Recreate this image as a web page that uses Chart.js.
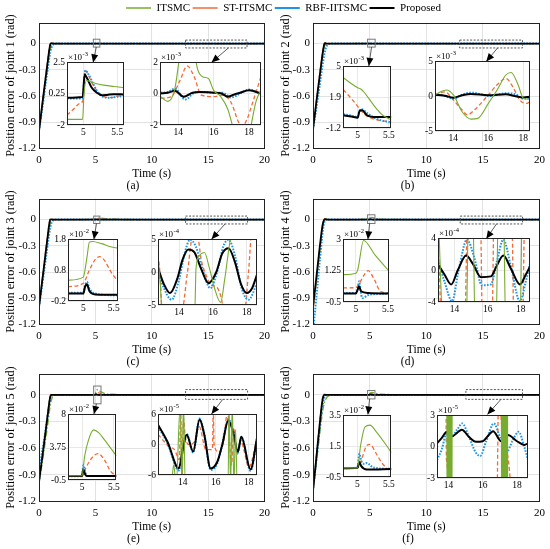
<!DOCTYPE html>
<html>
<head>
<meta charset="utf-8">
<script src="https://cdn.jsdelivr.net/npm/chart.js@4.4.1/dist/chart.umd.min.js"></script>
<style>
  body { margin: 0; background: #fff; width: 550px; height: 549px; position: relative; overflow: hidden; }
  canvas { position: absolute; }
</style>
</head>
<body>
<script>
// ---- series names and shared ticks ----
const seriesNames = ["ITSMC", "ST-ITSMC", "RBF-IITSMC", "Proposed"];
const mainXTicks = [0, 5, 10, 15, 20];
const mainYTicks = [-1.2, -0.9, -0.6, -0.3, 0];
const leftInsetXTicks = [5, 5.5];
const rightInsetXTicks = [14, 16, 18];

// ---- main plots: time grid and errors (rad) ----
const mainT = [0, 0.2, 0.4, 0.6, 0.8, 0.9, 1.0, 1.1, 1.2, 1.3, 1.5, 1.8, 2.2, 3, 4.98, 5.03, 5.2, 5.5, 6, 10, 20];

const aIT   = [-1.0, -0.81, -0.62, -0.43, -0.24, -0.14, -0.065, -0.025, -0.006, 0, 0.002, 0, 0, 0, 0, 0.001, 0.001, 0, 0, 0, 0];
const aST   = [-1.0, -0.78, -0.57, -0.36, -0.16, -0.06, 0.004, 0.012, 0.008, 0.003, 0, 0, 0, 0, 0, 0, 0.001, 0, 0, 0, 0];
const aRBF  = [-1.0, -0.82, -0.64, -0.45, -0.27, -0.18, -0.1, -0.05, -0.022, -0.008, -0.001, 0, 0, 0, 0, 0, 0, 0, 0, 0, 0];
const aProp = [-1.0, -0.79, -0.58, -0.38, -0.18, -0.08, -0.01, 0.004, 0.002, 0, 0, 0, 0, 0, 0, 0, 0, 0, 0, 0, 0];

const bIT   = [-0.98, -0.78, -0.58, -0.39, -0.2, -0.11, -0.04, -0.01, 0, 0, 0, 0, 0, 0, 0.003, 0.003, 0.002, 0, 0, 0, 0];
const bST   = [-0.98, -0.76, -0.55, -0.34, -0.14, -0.05, 0.008, 0.012, 0.006, 0.002, 0, 0, 0, 0, 0.001, 0.001, 0, 0, 0, 0, 0];
const bRBF  = [-0.98, -0.82, -0.65, -0.47, -0.29, -0.2, -0.12, -0.065, -0.03, -0.012, -0.002, 0, 0, 0, 0, 0, 0, 0, 0, 0, 0];
const bProp = [-0.98, -0.77, -0.56, -0.36, -0.16, -0.07, -0.005, 0.004, 0, 0, 0, 0, 0, 0, 0, 0, 0, 0, 0, 0, 0];

const cIT   = [-1.0, -0.8, -0.6, -0.4, -0.2, -0.11, -0.04, -0.01, 0, 0, 0, 0, 0, 0, 0.006, 0.012, 0.017, 0.016, 0.01, 0, 0];
const cST   = [-1.0, -0.78, -0.56, -0.35, -0.14, -0.05, 0.008, 0.01, 0.005, 0, 0, 0, 0, 0, 0.004, 0.007, 0.012, 0.009, 0.004, 0, 0];
const cRBF  = [-1.0, -0.82, -0.64, -0.45, -0.26, -0.17, -0.09, -0.04, -0.015, -0.004, 0, 0, 0, 0, 0, 0.003, 0, 0, 0, 0, 0];
const cProp = [-1.0, -0.79, -0.58, -0.37, -0.16, -0.06, 0, 0.003, 0, 0, 0, 0, 0, 0, 0, 0.003, 0, 0, 0, 0, 0];

const dIT   = [-1.05, -0.82, -0.59, -0.36, -0.14, -0.05, 0, 0.01, 0.006, 0.002, 0, 0, 0, 0, 0.011, 0.02, 0.026, 0.016, 0.005, 0, 0];
const dST   = [-1.05, -0.81, -0.57, -0.33, -0.11, -0.03, 0.008, 0.01, 0.004, 0, 0, 0, 0, 0, 0.003, 0.006, 0.012, 0.002, 0, 0, 0];
const dRBF  = [-1.3, -1.02, -0.75, -0.47, -0.21, -0.1, -0.03, 0, 0, 0, 0, 0, 0, 0, 0, 0.006, -0.002, 0, 0, 0, 0];
const dProp = [-1.0, -0.77, -0.54, -0.31, -0.1, -0.03, 0, 0.004, 0, 0, 0, 0, 0, 0, 0, 0.003, 0, 0, 0, 0, 0];

const eIT   = [-0.98, -0.84, -0.67, -0.49, -0.31, -0.21, -0.12, -0.06, -0.02, -0.005, 0, 0, 0, 0, 0.001, 0.035, 0.058, 0.035, 0.01, 0, 0];
const eST   = [-0.98, -0.77, -0.58, -0.38, -0.18, -0.08, -0.01, 0.008, 0.004, 0, 0, 0, 0, 0, 0, 0.01, 0.026, 0.014, 0.002, 0, 0];
const eRBF  = [-0.98, -0.7, -0.55, -0.38, -0.2, -0.11, -0.04, -0.01, 0, 0, 0, 0, 0, 0, 0, 0.009, 0, 0, 0, 0, 0];
const eProp = [-0.98, -0.79, -0.6, -0.4, -0.2, -0.1, -0.02, 0, 0, 0, 0, 0, 0, 0, 0, 0.007, 0, 0, 0, 0, 0];

const fIT   = [-1.08, -0.87, -0.65, -0.43, -0.23, -0.15, -0.09, -0.055, -0.032, -0.018, -0.007, -0.002, 0, 0, 0, 0.015, 0.028, 0.02, 0.008, 0, 0];
const fST   = [-1.08, -0.82, -0.56, -0.3, -0.07, -0.005, 0.01, 0.006, 0.002, 0, 0, 0, 0, 0, 0, 0.005, 0.016, 0.006, 0, 0, 0];
const fRBF  = [-1.08, -0.85, -0.61, -0.37, -0.15, -0.08, -0.03, -0.01, 0, 0, 0, 0, 0, 0, 0, 0.01, 0.002, 0, 0, 0, 0];
const fProp = [-1.08, -0.83, -0.57, -0.32, -0.09, -0.02, 0, 0, 0, 0, 0, 0, 0, 0, 0, 0.004, 0, 0, 0, 0, 0];

// ---- insets: [time, value] in the units of each inset's exponent ----
// (a) joint 1, x10^-3
const a1YTicks = [-2, 0.25, 2.5];
const a1IT   = [[4.76,-1.6],[4.99,-1.6],[5.01,0.2],[5.05,1.2],[5.1,1.1],[5.2,0.95],[5.3,0.85],[5.45,0.75],[5.6,0.67]];
const a1ST   = [[4.76,-1.3],[4.85,-0.9],[4.95,-0.45],[5.0,-0.2],[5.03,1.9],[5.08,1.5],[5.15,0.8],[5.22,0.35],[5.3,0.05],[5.4,-0.05],[5.5,0.05],[5.6,0.1]];
const a1RBF  = [[4.76,-0.1],[4.99,-0.1],[5.03,1.9],[5.08,1.6],[5.15,0.9],[5.22,0.3],[5.3,0.0],[5.38,-0.05],[5.5,0.02],[5.6,0.06]];
const a1Prop = [[4.76,-0.05],[4.99,0.0],[5.02,1.6],[5.06,1.3],[5.12,0.7],[5.2,0.3],[5.28,0.12],[5.35,0.15],[5.45,0.2],[5.6,0.18]];
const a2YTicks = [-2, 0, 2];
const a2IT   = [[13,-0.2],[13.4,-0.5],[13.8,0.3],[14.1,2.5],[14.5,4],[14.9,2.6],[15.1,1.5],[15.4,1.05],[15.7,0.95],[16.0,0.2],[16.4,-0.2],[16.8,-1],[17.1,-2.2],[17.5,-4],[18.0,-2.6],[18.4,-0.5],[18.7,0.3]];
const a2ST   = [[13,-0.3],[13.6,-0.2],[14.1,0.85],[14.5,1.75],[14.9,1.05],[15.3,-0.1],[16,-0.2],[16.5,-0.1],[17,-0.6],[17.4,-1.8],[17.6,-2.1],[17.9,-1.6],[18.2,-0.6],[18.7,1.15]];
const a2RBF  = [[13,0.05],[13.4,0.1],[13.8,0.3],[14.4,-0.38],[14.9,0.05],[15.3,0.1],[16,0.05],[16.5,0.05],[17,-0.25],[17.5,0.0],[18,0.25],[18.7,-0.05]];
const a2Prop = [[13,0],[13.4,0.05],[13.8,0.17],[14.3,-0.2],[14.8,0.05],[15.2,0.1],[16,0.05],[16.4,0.02],[16.8,-0.2],[17.2,-0.05],[17.5,0.05],[18,0.2],[18.7,0]];

// (b) joint 2, x10^-3
const b1YTicks = [-1.2, 1.9, 5];
const b1IT   = [[4.77,3.83],[4.9,3.23],[5.0,2.83],[5.05,2.7],[5.1,2.4],[5.2,1.57],[5.3,0.73],[5.4,0.07],[5.54,-0.37]];
const b1ST   = [[4.77,2.63],[4.9,1.73],[5.0,0.97],[5.1,0.23],[5.2,-0.17],[5.35,-0.43],[5.54,-0.6]];
const b1RBF  = [[4.77,0.17],[4.9,0.03],[5.0,-0.1],[5.03,0.57],[5.07,0.67],[5.15,0.3],[5.3,-0.27],[5.54,-0.67]];
const b1Prop = [[4.77,0.07],[4.9,-0.05],[5.0,-0.17],[5.03,0.5],[5.07,0.57],[5.15,0.07],[5.3,-0.1],[5.54,-0.1]];
const b2YTicks = [-5, 0, 5];
const b2IT   = [[12.95,0.2],[13.6,0.86],[14,0.15],[14.5,-2.25],[15,-3.3],[15.4,-3.2],[16,-1.05],[16.5,0.86],[17,3.0],[17.3,3.35],[17.7,1.6],[18,-0.33],[18.38,-0.48]];
const b2ST   = [[12.95,0.1],[13.5,0.6],[14,-0.57],[14.5,-2],[14.8,-2.7],[15.2,-2],[16,0.15],[16.5,1.6],[17,2.5],[17.4,1.3],[17.8,-0.6],[18.2,-1.05],[18.38,-0.8]];
const b2RBF  = [[12.95,0.2],[13.5,0],[14,-0.38],[14.5,0.2],[15,0.48],[15.5,0.3],[16,0],[17,0.38],[17.5,0.3],[18,-0.38],[18.38,-0.25]];
const b2Prop = [[12.95,0.15],[13.5,0.05],[14,-0.25],[14.5,0.1],[15,0.3],[16,0.1],[17,0.25],[17.5,0],[18,-0.2],[18.38,-0.1]];

// (c) joint 3, x10^-2 and x10^-4
const c1YTicks = [-0.2, 0.8, 1.8];
const c1IT   = [[4.75,0.47],[5.0,0.57],[5.06,1.2],[5.1,1.7],[5.15,1.72],[5.3,1.65],[5.45,1.55],[5.57,1.5]];
const c1ST   = [[4.75,0.26],[5.0,0.37],[5.1,0.8],[5.2,1.15],[5.27,1.23],[5.35,1.1],[5.45,0.75],[5.57,0.42]];
const c1RBF  = [[4.75,0.07],[5.0,0.07],[5.03,0.31],[5.06,0.42],[5.1,0.2],[5.2,0.04],[5.57,-0.02]];
const c1Prop = [[4.75,0.04],[5.0,0.04],[5.03,0.26],[5.06,0.34],[5.1,0.12],[5.2,0.01],[5.57,0]];
const c2YTicks = [-5, 0, 5];
const c2IT   = [[12.76,2.6],[12.9,-2],[13.0,-6],[14.93,-6],[15.0,0.5],[15.2,2.5],[15.5,2.95],[15.8,0.5],[16.1,-2.5],[16.45,-4.6],[16.7,-1],[17.0,4.5],[17.15,6],[18.6,6]];
const c2ST   = [[12.76,2.6],[12.9,-1],[13.0,-6],[14.15,-6],[14.5,0],[14.85,6],[15.1,5.5],[15.3,2],[15.6,-0.5],[15.9,-2],[16.2,-2.2],[16.5,-4],[16.65,-6],[17.85,-6],[18.1,0],[18.3,6],[18.6,6]];
const c2RBF  = [[12.76,0.1],[13.1,-2.4],[13.56,-4.2],[14.0,-1.2],[14.3,2.5],[14.65,4.9],[15.0,3.8],[15.4,0.3],[15.84,-2.45],[16.3,0.5],[16.6,3.8],[16.92,4.9],[17.3,2.5],[17.7,-2.5],[18.1,-4.2],[18.6,-1.7]];
const c2Prop = [[12.76,0.6],[13.1,-1.8],[13.47,-3.2],[13.9,-1],[14.2,1.8],[14.55,3.4],[14.9,3.0],[15.3,0.5],[15.74,-1.7],[16.2,0],[16.55,2.8],[16.92,3.6],[17.3,1.5],[17.65,-1.8],[18.0,-3.2],[18.3,-2.5],[18.6,-0.4]];

// (d) joint 4, x10^-2 and x10^-4
const d1YTicks = [-0.5, 1.25, 3];
const d1IT   = [[4.8,1.02],[5.0,1.1],[5.03,1.3],[5.12,2.92],[5.3,2.1],[5.51,1.24]];
const d1ST   = [[4.8,0.28],[5.0,0.3],[5.05,0.5],[5.12,0.95],[5.19,1.24],[5.28,0.8],[5.38,0.1],[5.51,0.0]];
const d1RBF  = [[4.8,0.0],[5.0,0.0],[5.03,0.3],[5.05,0.65],[5.07,0.2],[5.1,-0.28],[5.2,-0.1],[5.51,-0.03]];
const d1Prop = [[4.8,-0.03],[5.0,-0.03],[5.03,0.2],[5.05,0.37],[5.08,0.1],[5.2,0.0],[5.51,-0.03]];
const d2YTicks = [-4, 0, 4];
const d2IT   = [[13,8],[13.35,-8],[14.7,-8],[14.85,8],[15.1,8],[15.25,-8],[16.5,-8],[16.65,8],[16.95,8],[17.1,-8],[17.95,-8],[18.1,8],[18.56,8]];
const d2ST   = [[13,3],[13.1,-1],[13.2,-8],[14.6,-8],[14.8,8],[15.55,8],[15.7,-8],[16.25,-8],[16.4,8],[17.45,8],[17.6,-8],[18.1,-8],[18.25,8],[18.56,8]];
const d2RBF  = [[13,1.3],[13.4,-1.5],[13.85,-3.9],[14.25,0],[14.75,3.8],[15.2,1.5],[15.65,-1.9],[16.2,-1.8],[16.55,1],[16.95,3.8],[17.4,0.5],[17.95,-3.9],[18.3,-1.5],[18.56,0.8]];
const d2Prop = [[13,0.7],[13.4,-0.6],[13.8,-1.8],[14.2,0.0],[14.7,1.8],[15.1,0.8],[15.6,-0.9],[16.2,-0.8],[16.5,0.3],[16.95,1.8],[17.4,0.2],[17.95,-1.8],[18.3,-0.6],[18.56,0.4]];

// (e) joint 5, x10^-2 and x10^-5
const e1YTicks = [-0.5, 3.75, 8];
const e1IT   = [[4.78,0.05],[5.0,0.05],[5.04,2.5],[5.1,4.6],[5.18,5.95],[5.26,5.6],[5.35,4.7],[5.45,3.6],[5.54,2.6]];
const e1ST   = [[4.78,-0.03],[5.0,-0.03],[5.05,0.9],[5.15,2.3],[5.25,2.9],[5.35,2.1],[5.45,0.6],[5.54,0.0]];
const e1RBF  = [[4.78,-0.03],[5.0,-0.03],[5.02,1.4],[5.05,0.5],[5.08,0],[5.54,0]];
const e1Prop = [[4.78,0],[5.0,0],[5.02,0.9],[5.05,0.2],[5.08,0],[5.54,0]];
const e2YTicks = [-6, 0, 6];
const e2IT   = [[12.5,-8],[13.3,-8],[13.45,-4],[13.6,-8],[13.85,8],[13.95,-8],[14.05,8],[14.15,-8],[16.75,-8],[16.8,8],[16.9,-8],[17.0,8],[17.1,-8],[17.2,3],[17.3,-8],[18.5,-8]];
const e2ST   = [[12.5,2.0],[12.9,0.5],[13.2,-0.5],[13.5,-1.0],[13.8,-3],[13.87,7],[13.95,-7],[14.05,5],[14.15,1.5],[14.4,0],[14.7,0.5],[15.0,3.5],[15.4,-1],[15.8,-1],[15.85,7],[15.9,0],[16.2,-1.5],[16.5,1],[16.72,7],[16.8,3],[16.95,-4],[17.1,3],[17.3,-2],[17.5,1],[17.7,-1],[18.0,-4.5],[18.5,1]];
const e2RBF  = [[12.5,3.5],[13.08,0.2],[13.76,-5.1],[14.0,-1.3],[14.24,2.1],[14.63,-1.6],[15.02,5.1],[15.3,2.2],[15.69,-5.0],[16.08,-3.8],[16.4,0.2],[16.76,5.0],[17.05,2.7],[17.34,-1.6],[17.55,1.5],[18.11,-5.2],[18.5,1.0]];
const e2Prop = [[12.5,3.9],[13.08,0.5],[13.76,-4.7],[14.0,-1],[14.24,1.9],[14.63,-1.4],[15.02,4.9],[15.3,2],[15.69,-4.7],[16.08,-3.5],[16.4,0],[16.76,4.7],[17.05,2.5],[17.34,-1.4],[17.55,1.5],[18.11,-4.9],[18.5,1.3]];

// (f) joint 6, x10^-2 and x10^-5
const f1YTicks = [-0.5, 1.5, 3.5];
const f1IT   = [[4.77,0.09],[5.0,0.09],[5.05,1.54],[5.12,2.74],[5.2,2.85],[5.3,2.41],[5.45,1.6],[5.54,1.07]];
const f1ST   = [[4.77,0.07],[5.0,0.07],[5.05,0.46],[5.15,1.54],[5.2,1.6],[5.3,1.0],[5.4,0.35],[5.5,0.02],[5.54,0.02]];
const f1RBF  = [[4.77,0.07],[5.0,0.1],[5.03,1.0],[5.06,0.55],[5.1,0.35],[5.15,0.4],[5.25,0.12],[5.54,0.02]];
const f1Prop = [[4.77,0.07],[5.0,0.1],[5.03,0.46],[5.06,0.2],[5.15,-0.02],[5.54,0.02]];
const f2YTicks = [-3, 0, 3];
const f2IT   = [[13.33,8],[13.9,8],[13.92,-8],[13.94,8],[13.96,-8],[13.98,8],[14.0,-8],[14.02,8],[14.04,-8],[14.06,8],[14.08,-8],[14.1,8],[14.12,-8],[14.14,8],[14.16,-8],[14.18,8],[14.2,-8],[14.22,8],
                [17.08,8],[17.1,-8],[17.12,8],[17.14,-8],[17.16,8],[17.18,-8],[17.2,8],[17.22,-8],[17.24,8],[17.26,-8],[17.28,8],[17.3,-8],[17.32,8],[17.34,-8],[17.36,8],[17.38,-8],[17.4,8],[17.42,-8],[17.44,8],[17.46,-8],[18.64,-8]];
const f2ST   = [[13.33,8],[13.84,8],[13.88,-1.2],[14.2,-3.3],[14.3,-8],[16.8,-8],[16.95,8],[17.05,3.2],[17.6,-3.2],[17.7,-8],[18.64,-8]];
const f2RBF  = [[13.33,-1.3],[13.6,-0.3],[13.91,1.3],[14.2,1.0],[14.5,1.6],[14.8,2.2],[15.2,0.9],[15.6,-0.6],[15.85,-0.9],[16.2,0.5],[16.65,2.2],[17.0,0.9],[17.4,-0.5],[17.75,0.6],[18.1,1.4],[18.4,0.1],[18.64,-1.3]];
const f2Prop = [[13.33,0.3],[13.6,0.8],[13.91,1.4],[14.2,0.95],[14.5,1.3],[14.78,1.6],[15.2,0.9],[15.6,0.45],[16.0,0.5],[16.3,1.0],[16.6,1.45],[17.08,0.5],[17.47,1.1],[18.0,0.5],[18.43,0.15],[18.64,0.3]];

// ---- look ----
Chart.defaults.font.family = '"Liberation Serif", "Times New Roman", serif';
Chart.defaults.color = '#000';
Chart.defaults.animation = false;

const lineStyle = [
  { borderColor: '#77ac30', borderWidth: 1.3, borderDash: [6, 2, 1.5, 2] },
  { borderColor: '#f26b38', borderWidth: 1.3, borderDash: [4, 2.5] },
  { borderColor: '#1f93e6', borderWidth: 2, borderDash: [1.6, 1.4] },
  { borderColor: '#000000', borderWidth: 1.8, borderDash: [] }
];

function addCanvas(left, top, w, h) {
  const c = document.createElement('canvas');
  c.width = w; c.height = h;
  c.style.left = left + 'px'; c.style.top = top + 'px';
  c.style.width = w + 'px'; c.style.height = h + 'px';
  document.body.appendChild(c);
  return c;
}

function makeSet(i, points, order) {
  return Object.assign({
    label: seriesNames[i], data: points, pointRadius: 0, fill: false,
    cubicInterpolationMode: 'monotone', order: order
  }, lineStyle[i]);
}

function fixedTicks(list) {
  return scale => { scale.ticks = list.map(v => ({ value: v })); };
}

// black frame around a plot area
const framePlugin = {
  id: 'frame',
  afterDraw(chart) {
    const { ctx, chartArea: a } = chart;
    ctx.save();
    ctx.strokeStyle = '#222';
    ctx.lineWidth = 1;
    ctx.strokeRect(Math.round(a.left) + 0.5, Math.round(a.top) + 0.5, Math.round(a.right - a.left) - 1, Math.round(a.bottom - a.top) - 1);
    ctx.restore();
  }
};

// zoom boxes and arrows on a main plot
function marksPlugin(marks) {
  return {
    id: 'marks',
    afterDraw(chart) {
      const { ctx } = chart;
      const x = chart.scales.x, y = chart.scales.y;
      ctx.save();
      marks.boxes.forEach(b => {
        ctx.strokeStyle = b.dashed ? '#555' : '#777';
        ctx.lineWidth = 1;
        ctx.setLineDash(b.dashed ? [2, 1.5] : []);
        const x0 = x.getPixelForValue(b.x0), x1 = x.getPixelForValue(b.x1);
        const y0 = y.getPixelForValue(b.y1), y1 = y.getPixelForValue(b.y0);
        ctx.strokeRect(x0, y0, x1 - x0, y1 - y0);
      });
      ctx.setLineDash([]);
      marks.arrows.forEach(r => {
        const x0 = x.getPixelForValue(r.x0), y0 = y.getPixelForValue(r.y0);
        const x1 = x.getPixelForValue(r.x1), y1 = y.getPixelForValue(r.y1);
        const ang = Math.atan2(y1 - y0, x1 - x0);
        ctx.strokeStyle = '#333'; ctx.fillStyle = '#000'; ctx.lineWidth = 0.8;
        ctx.beginPath(); ctx.moveTo(x0, y0); ctx.lineTo(x1, y1); ctx.stroke();
        ctx.beginPath();
        ctx.moveTo(x1, y1);
        ctx.lineTo(x1 - 8 * Math.cos(ang) + 3.5 * Math.sin(ang), y1 - 8 * Math.sin(ang) - 3.5 * Math.cos(ang));
        ctx.lineTo(x1 - 8 * Math.cos(ang) - 3.5 * Math.sin(ang), y1 - 8 * Math.sin(ang) + 3.5 * Math.cos(ang));
        ctx.closePath(); ctx.fill();
      });
      ctx.restore();
    }
  };
}

// white plot area and "x10^n" label for an inset
function insetPlugin(exp) {
  return {
    id: 'inset',
    beforeDraw(chart) {
      const { ctx, chartArea: a } = chart;
      ctx.save();
      ctx.fillStyle = '#fff';
      ctx.fillRect(a.left, a.top, a.right - a.left, a.bottom - a.top);
      ctx.restore();
    },
    afterDraw(chart) {
      const { ctx, chartArea: a } = chart;
      ctx.save();
      ctx.fillStyle = '#000';
      ctx.textBaseline = 'alphabetic';
      ctx.font = '9px "Liberation Serif"';
      ctx.fillText('\u00d710', a.left + 1, a.top - 2);
      const w = ctx.measureText('\u00d710').width;
      ctx.font = '6.5px "Liberation Serif"';
      ctx.fillText(exp, a.left + 1 + w + 0.5, a.top - 6);
      ctx.restore();
    }
  };
}

// ---- legend across the top (tall canvas so the legend box is not squeezed) ----
new Chart(addCanvas(0, 0, 550, 60), {
  type: 'line',
  data: { datasets: [0, 1, 2, 3].map(i => makeSet(i, [], i)) },
  options: {
    responsive: false,
    layout: { padding: { left: 17, top: 0 } },
    scales: { x: { display: false }, y: { display: false } },
    plugins: {
      tooltip: { enabled: false },
      legend: {
        position: 'top',
        labels: {
          usePointStyle: true, pointStyle: 'line', pointStyleWidth: 25,
          font: { size: 11 }, color: '#000', padding: 2.5
        }
      }
    }
  }
});

// ---- main plots ----
function mainChart(p) {
  const h = p.bottom - p.top;
  const cv = addCanvas(p.col, p.top - 8, 275, h + 8 + 32 + 13);
  const sets = [
    makeSet(3, mainT.map((t, i) => ({ x: t, y: p.series[3][i] })), 0),
    makeSet(2, mainT.map((t, i) => ({ x: t, y: p.series[2][i] })), 1),
    makeSet(1, mainT.map((t, i) => ({ x: t, y: p.series[1][i] })), 2),
    makeSet(0, mainT.map((t, i) => ({ x: t, y: p.series[0][i] })), 3)
  ];
  new Chart(cv, {
    type: 'line',
    data: { datasets: sets },
    options: {
      responsive: false,
      layout: { padding: { top: 8, right: p.padRight, left: 0, bottom: 0 } },
      scales: {
        x: {
          type: 'linear', min: 0, max: 20,
          afterBuildTicks: fixedTicks(mainXTicks),
          afterFit: s => { s.height = 32; },
          grid: { color: '#dadada', lineWidth: 0.8, drawTicks: false },
          border: { display: false },
          ticks: { padding: 5, font: { size: 11 }, maxRotation: 0, autoSkip: false, callback: v => String(v) },
          title: { display: true, text: 'Time (s)', font: { size: 11.5 }, padding: 0 }
        },
        y: {
          type: 'linear', min: -1.2, max: 0.24,
          afterBuildTicks: fixedTicks(mainYTicks),
          afterFit: s => { s.width = p.yWidth; },
          grid: { color: '#dadada', lineWidth: 0.8, drawTicks: false },
          border: { display: false },
          ticks: { padding: 3, font: { size: 11 }, autoSkip: false, callback: v => String(v) },
          title: { display: true, text: 'Position error of joint ' + p.joint + ' (rad)', font: { size: 12.3 }, padding: { top: 3, bottom: 0 } }
        }
      },
      plugins: {
        legend: { display: false },
        tooltip: { enabled: false },
        title: { display: true, position: 'bottom', text: '(' + p.letter + ')', font: { size: 11.5, weight: 'normal', lineHeight: 1 }, padding: { top: 0, bottom: 1 } }
      }
    },
    plugins: [framePlugin, marksPlugin(p.marks)]
  });
}

function insetChart(p) {
  const padL = 28, padT = 13, padB = 14, padR = 3;
  const w = p.right - p.left, h = p.bottom - p.top;
  const cv = addCanvas(p.left - padL, p.top - padT, w + padL + padR, h + padT + padB);
  const sets = [
    makeSet(0, p.series[0].map(d => ({ x: d[0], y: d[1] })), 0),
    makeSet(3, p.series[3].map(d => ({ x: d[0], y: d[1] })), 1),
    makeSet(2, p.series[2].map(d => ({ x: d[0], y: d[1] })), 2),
    makeSet(1, p.series[1].map(d => ({ x: d[0], y: d[1] })), 3)
  ];
  // at this zoom the ITSMC trace reads as a thin solid line
  sets[0].borderDash = [];
  sets[0].borderWidth = 1.1;
  sets[1].borderWidth = 2;
  new Chart(cv, {
    type: 'line',
    data: { datasets: sets },
    options: {
      responsive: false,
      layout: { padding: { top: padT, right: padR, left: 0, bottom: 0 } },
      scales: {
        x: {
          type: 'linear', min: p.xmin, max: p.xmax,
          afterBuildTicks: fixedTicks(p.xTicks),
          afterFit: s => { s.height = padB; },
          grid: { color: '#e2e2e2', lineWidth: 0.8, drawTicks: false },
          border: { display: false },
          ticks: { padding: 2, font: { size: 9.5 }, maxRotation: 0, autoSkip: false, callback: v => String(v) }
        },
        y: {
          type: 'linear', min: p.yTicks[0], max: p.yTicks[p.yTicks.length - 1],
          afterBuildTicks: fixedTicks(p.yTicks),
          afterFit: s => { s.width = padL; },
          grid: { color: '#e2e2e2', lineWidth: 0.8, drawTicks: false },
          border: { display: false },
          ticks: { padding: 2, font: { size: 9.5 }, autoSkip: false, callback: v => String(v) }
        }
      },
      plugins: { legend: { display: false }, tooltip: { enabled: false } }
    },
    plugins: [insetPlugin(p.exp), framePlugin]
  });
}

mainChart({ letter: 'a', joint: 1, col: 0, top: 21, bottom: 148, yWidth: 39, padRight: 9,
  series: [aIT, aST, aRBF, aProp],
  marks: { boxes: [{ x0: 4.82, x1: 5.4, y0: -0.04, y1: 0.05 }, { x0: 13, x1: 18.45, y0: -0.05, y1: 0.04, dashed: true }],
           arrows: [{ x0: 5.08, y0: -0.04, x1: 4.8, y1: -0.215 }, { x0: 16.8, y0: -0.05, x1: 15.3, y1: -0.215 }] } });
mainChart({ letter: 'b', joint: 2, col: 275, top: 21, bottom: 148, yWidth: 38, padRight: 10,
  series: [bIT, bST, bRBF, bProp],
  marks: { boxes: [{ x0: 4.82, x1: 5.49, y0: -0.04, y1: 0.05 }, { x0: 12.95, x1: 18.5, y0: -0.05, y1: 0.04, dashed: true }],
           arrows: [{ x0: 5.17, y0: -0.04, x1: 4.93, y1: -0.255 }, { x0: 16.3, y0: -0.05, x1: 15.3, y1: -0.205 }] } });
mainChart({ letter: 'c', joint: 3, col: 0, top: 197, bottom: 324, yWidth: 39, padRight: 9,
  series: [cIT, cST, cRBF, cProp],
  marks: { boxes: [{ x0: 4.85, x1: 5.4, y0: -0.045, y1: 0.04 }, { x0: 13, x1: 18.5, y0: -0.05, y1: 0.04, dashed: true }],
           arrows: [{ x0: 5.1, y0: -0.045, x1: 4.87, y1: -0.225 }, { x0: 16.5, y0: -0.05, x1: 15.3, y1: -0.225 }] } });
mainChart({ letter: 'd', joint: 4, col: 275, top: 197, bottom: 324, yWidth: 38, padRight: 10,
  series: [dIT, dST, dRBF, dProp],
  marks: { boxes: [{ x0: 4.82, x1: 5.47, y0: -0.045, y1: 0.055 }, { x0: 13, x1: 18.5, y0: -0.05, y1: 0.04, dashed: true }],
           arrows: [{ x0: 5.0, y0: -0.045, x1: 4.85, y1: -0.225 }, { x0: 16.2, y0: -0.05, x1: 15.3, y1: -0.22 }] } });
mainChart({ letter: 'e', joint: 5, col: 0, top: 372, bottom: 501, yWidth: 39, padRight: 8,
  series: [eIT, eST, eRBF, eProp],
  marks: { boxes: [{ x0: 4.85, x1: 5.5, y0: -0.1, y1: 0.1 }, { x0: 13, x1: 18.5, y0: -0.05, y1: 0.06, dashed: true }],
           arrows: [{ x0: 5.1, y0: -0.1, x1: 4.87, y1: -0.215 }, { x0: 16.3, y0: -0.05, x1: 15.3, y1: -0.215 }] } });
mainChart({ letter: 'f', joint: 6, col: 275, top: 372, bottom: 501, yWidth: 38, padRight: 9,
  series: [fIT, fST, fRBF, fProp],
  marks: { boxes: [{ x0: 4.82, x1: 5.47, y0: -0.045, y1: 0.05 }, { x0: 13.5, x1: 18.5, y0: -0.05, y1: 0.06, dashed: true }],
           arrows: [{ x0: 5.0, y0: -0.045, x1: 4.85, y1: -0.22 }, { x0: 16.6, y0: -0.05, x1: 15.4, y1: -0.22 }] } });

// ---- insets ----
insetChart({ left: 67, top: 62, right: 124, bottom: 125, xmin: 4.76, xmax: 5.6, xTicks: leftInsetXTicks, yTicks: a1YTicks, exp: '-3', series: [a1IT, a1ST, a1RBF, a1Prop] });
insetChart({ left: 160, top: 62, right: 261, bottom: 125, xmin: 12.96, xmax: 18.68, xTicks: rightInsetXTicks, yTicks: a2YTicks, exp: '-3', series: [a2IT, a2ST, a2RBF, a2Prop] });
insetChart({ left: 343, top: 66, right: 394, bottom: 128, xmin: 4.765, xmax: 5.54, xTicks: leftInsetXTicks, yTicks: b1YTicks, exp: '-3', series: [b1IT, b1ST, b1RBF, b1Prop] });
insetChart({ left: 435, top: 61, right: 530, bottom: 131, xmin: 12.95, xmax: 18.38, xTicks: rightInsetXTicks, yTicks: b2YTicks, exp: '-3', series: [b2IT, b2ST, b2RBF, b2Prop] });
insetChart({ left: 68, top: 239, right: 119, bottom: 301, xmin: 4.75, xmax: 5.57, xTicks: leftInsetXTicks, yTicks: c1YTicks, exp: '-2', series: [c1IT, c1ST, c1RBF, c1Prop] });
insetChart({ left: 158, top: 239, right: 257, bottom: 305, xmin: 12.76, xmax: 18.6, xTicks: rightInsetXTicks, yTicks: c2YTicks, exp: '-4', series: [c2IT, c2ST, c2RBF, c2Prop] });
insetChart({ left: 343, top: 239, right: 393, bottom: 302, xmin: 4.8, xmax: 5.51, xTicks: leftInsetXTicks, yTicks: d1YTicks, exp: '-2', series: [d1IT, d1ST, d1RBF, d1Prop] });
insetChart({ left: 438, top: 238, right: 530, bottom: 302, xmin: 13.0, xmax: 18.56, xTicks: rightInsetXTicks, yTicks: d2YTicks, exp: '-4', series: [d2IT, d2ST, d2RBF, d2Prop] });
insetChart({ left: 68, top: 414, right: 119, bottom: 480, xmin: 4.78, xmax: 5.54, xTicks: leftInsetXTicks, yTicks: e1YTicks, exp: '-2', series: [e1IT, e1ST, e1RBF, e1Prop] });
insetChart({ left: 158, top: 414, right: 257, bottom: 475, xmin: 12.5, xmax: 18.5, xTicks: rightInsetXTicks, yTicks: e2YTicks, exp: '-5', series: [e2IT, e2ST, e2RBF, e2Prop] });
insetChart({ left: 343, top: 415, right: 394, bottom: 477, xmin: 4.77, xmax: 5.54, xTicks: leftInsetXTicks, yTicks: f1YTicks, exp: '-2', series: [f1IT, f1ST, f1RBF, f1Prop] });
insetChart({ left: 437, top: 415, right: 528, bottom: 478, xmin: 13.33, xmax: 18.64, xTicks: rightInsetXTicks, yTicks: f2YTicks, exp: '-5', series: [f2IT, f2ST, f2RBF, f2Prop] });
</script>
</body>
</html>
